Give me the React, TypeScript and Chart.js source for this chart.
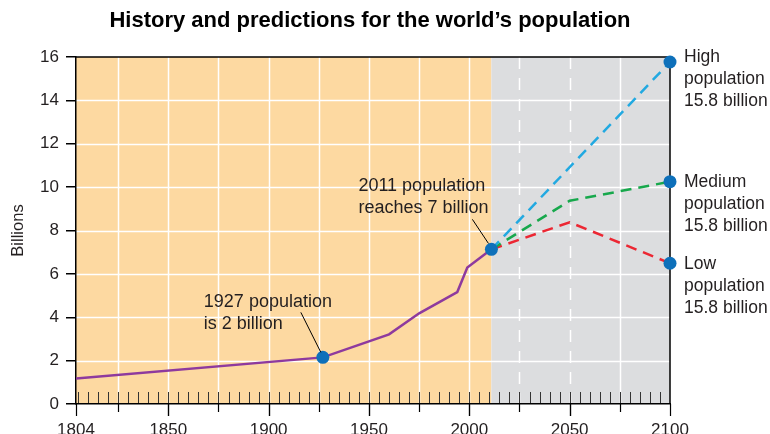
import React, { useEffect, useRef } from 'react';
import { Chart, registerables } from 'chart.js';

Chart.register(...registerables);

const historyYears = [1804, 1927, 1960, 1975, 1994, 1999, 2011];
const historyValues = [1.18, 2.15, 3.21, 4.18, 5.16, 6.29, 7.13];
const highYears = [2011, 2100];
const highValues = [7.13, 15.77];
const mediumYears = [2011, 2050, 2100];
const mediumValues = [7.13, 9.37, 10.25];
const lowYears = [2011, 2050, 2100];
const lowValues = [7.13, 8.38, 6.49];
const markerYears = [1927, 2011, 2100, 2100, 2100];
const markerValues = [2.15, 7.13, 15.77, 10.25, 6.49];
const xLabelYears = [1804, 1850, 1900, 1950, 2000, 2050, 2100];
const gridYears = [1825, 1850, 1875, 1900, 1925, 1950, 1975, 2000, 2025, 2050, 2075];
const dashedGridYears = [2025, 2050];
const yTickValues = [0, 2, 4, 6, 8, 10, 12, 14, 16];
const xMin = 1804;
const xMax = 2100;
const projectionStart = 2011;
const titleText = 'History and predictions for the world\u2019s population';
const yTitleText = 'Billions';
const note1927 = ['1927 population', 'is 2 billion'];
const note2011 = ['2011 population', 'reaches 7 billion'];
const highLabel = ['High', 'population', '15.8 billion'];
const mediumLabel = ['Medium', 'population', '15.8 billion'];
const lowLabel = ['Low', 'population', '15.8 billion'];

const FONT = '"Liberation Sans", Arial, Helvetica, sans-serif';
const TEXT = '#231F20';

const toPts = (xs: number[], ys: number[]) => xs.map((x, i) => ({ x, y: ys[i] }));

const decorPlugin = {
  id: 'decor',
  beforeDraw(chart: any) {
    const { ctx, chartArea: a, scales } = chart;
    const xs = scales.x;
    const ys = scales.y;
    const xStart = xs.getPixelForValue(xMin);
    const xSplit = xs.getPixelForValue(projectionStart);
    const xEnd = xs.getPixelForValue(xMax);
    ctx.save();
    ctx.fillStyle = '#FDD9A1';
    ctx.fillRect(xStart, a.top, xSplit - xStart, a.bottom - a.top);
    ctx.fillStyle = '#DCDDDF';
    ctx.fillRect(xSplit, a.top, xEnd - xSplit, a.bottom - a.top);

    ctx.strokeStyle = '#FFFFFF';
    ctx.lineWidth = 1.5;
    yTickValues.forEach((v) => {
      if (v <= 0 || v >= 16) return;
      const y = Math.round(ys.getPixelForValue(v)) + 0.5;
      ctx.beginPath();
      ctx.moveTo(a.left, y);
      ctx.lineTo(a.right, y);
      ctx.stroke();
    });
    gridYears.forEach((yr) => {
      const x = Math.round(xs.getPixelForValue(yr)) + 0.5;
      ctx.setLineDash(dashedGridYears.includes(yr) ? [12, 9] : []);
      ctx.beginPath();
      ctx.moveTo(x, a.top);
      ctx.lineTo(x, a.bottom);
      ctx.stroke();
    });
    ctx.setLineDash([]);

    ctx.strokeStyle = '#333333';
    ctx.lineWidth = 1;
    for (let yr = 1805; yr < xMax; yr += 5) {
      const x = Math.round(xs.getPixelForValue(yr)) + 0.5;
      ctx.beginPath();
      ctx.moveTo(x, a.bottom - 12);
      ctx.lineTo(x, a.bottom);
      ctx.stroke();
    }
    ctx.strokeStyle = '#000000';
    ctx.lineWidth = 1.2;
    const outside = [...gridYears, ...xLabelYears];
    outside.forEach((yr) => {
      const x = Math.round(xs.getPixelForValue(yr)) + 0.5;
      const len = xLabelYears.includes(yr) ? 12 : 8;
      ctx.beginPath();
      ctx.moveTo(x, a.bottom);
      ctx.lineTo(x, a.bottom + len);
      ctx.stroke();
    });
    ctx.lineWidth = 1.5;
    ctx.beginPath();
    ctx.moveTo(a.left, a.top);
    ctx.lineTo(a.right, a.top);
    ctx.lineTo(a.right, a.bottom);
    ctx.stroke();
    ctx.restore();
  },
  afterDraw(chart: any) {
    const { ctx, chartArea: a, scales } = chart;
    const xs = scales.x;
    const ys = scales.y;
    ctx.save();
    ctx.fillStyle = '#000';
    ctx.font = `bold 22px ${FONT}`;
    ctx.textAlign = 'center';
    ctx.textBaseline = 'middle';
    ctx.fillText(titleText, (a.left + a.right) / 2 - 3, 21);
    ctx.save();
    ctx.translate(18, (a.top + a.bottom) / 2);
    ctx.rotate(-Math.PI / 2);
    ctx.font = `16.5px ${FONT}`;
    ctx.fillStyle = TEXT;
    ctx.fillText(yTitleText, 0, 0);
    ctx.restore();

    ctx.fillStyle = TEXT;
    ctx.textAlign = 'left';
    ctx.textBaseline = 'middle';
    const lh = 22;
    const drawLines = (lines: string[], x: number, y: number) => {
      lines.forEach((t, i) => ctx.fillText(t, x, y + i * lh));
    };
    ctx.font = `18px ${FONT}`;
    const p1x = xs.getPixelForValue(markerYears[0]);
    const p1y = ys.getPixelForValue(markerValues[0]);
    drawLines(note1927, p1x - 119, p1y - 55);
    const p2x = xs.getPixelForValue(markerYears[1]);
    const p2y = ys.getPixelForValue(markerValues[1]);
    drawLines(note2011, p2x - 133, p2y - 63);
    ctx.strokeStyle = '#000';
    ctx.lineWidth = 1;
    ctx.beginPath();
    ctx.moveTo(p1x - 22, p1y - 45);
    ctx.lineTo(p1x - 2, p1y - 5);
    ctx.moveTo(p2x - 19, p2y - 30);
    ctx.lineTo(p2x - 3, p2y - 6);
    ctx.stroke();
    ctx.font = `17.5px ${FONT}`;
    const rx = xs.getPixelForValue(xMax) + 14;
    drawLines(highLabel, rx, ys.getPixelForValue(markerValues[2]) - 5);
    drawLines(mediumLabel, rx, ys.getPixelForValue(markerValues[3]));
    drawLines(lowLabel, rx, ys.getPixelForValue(markerValues[4]) + 1);
    ctx.restore();
  },
};

export default function App() {
  const ref = useRef<HTMLCanvasElement | null>(null);
  useEffect(() => {
    if (!ref.current) return;
    const lineBase = {
      type: 'line' as const,
      pointRadius: 0,
      borderWidth: 2.5,
      tension: 0,
      fill: false,
    };
    const chart = new Chart(ref.current, {
      type: 'line',
      data: {
        datasets: [
          {
            type: 'line',
            data: toPts(markerYears, markerValues),
            showLine: false,
            pointRadius: 6.5,
            pointHoverRadius: 6.5,
            pointBackgroundColor: '#0E70BA',
            pointBorderWidth: 0,
            borderColor: '#0E70BA',
            clip: false,
            order: 0,
          },
          { ...lineBase, data: toPts(historyYears, historyValues), borderColor: '#8E3A9E', order: 1 },
          { ...lineBase, data: toPts(highYears, highValues), borderColor: '#22A9E1', borderDash: [11, 7], order: 2 },
          { ...lineBase, data: toPts(mediumYears, mediumValues), borderColor: '#17A84C', borderDash: [11, 7], order: 3 },
          { ...lineBase, data: toPts(lowYears, lowValues), borderColor: '#EC2733', borderDash: [11, 7], order: 4 },
        ] as any,
      },
      options: {
        animation: false,
        responsive: false,
        events: [],
        layout: { padding: { left: 0, right: 100, top: 57, bottom: 0 } },
        plugins: { legend: { display: false }, tooltip: { enabled: false }, title: { display: false } },
        scales: {
          x: {
            type: 'linear',
            min: xMin,
            max: xMax,
            afterBuildTicks: (s: any) => {
              s.ticks = xLabelYears.map((v) => ({ value: v }));
            },
            afterFit: (s: any) => {
              s.height = 30;
            },
            grid: { display: false },
            border: { display: true, color: '#000', width: 1.5 },
            ticks: {
              padding: 8,
              color: TEXT,
              font: { family: FONT, size: 17 },
              maxRotation: 0,
              autoSkip: false,
              callback: (v: any) => String(v),
            },
          },
          y: {
            type: 'linear',
            min: 0,
            max: 16,
            afterBuildTicks: (s: any) => {
              s.ticks = yTickValues.map((v) => ({ value: v }));
            },
            afterFit: (s: any) => {
              s.width = 76;
            },
            grid: { drawOnChartArea: false, tickLength: 10, color: '#000', lineWidth: 1.5 },
            border: { display: true, color: '#000', width: 1.5 },
            ticks: {
              padding: 7,
              color: TEXT,
              font: { family: FONT, size: 17 },
            },
          },
        },
      },
      plugins: [decorPlugin],
    } as any);
    return () => chart.destroy();
  }, []);
  return (
    <div style={{ position: 'fixed', left: 0, top: 0, width: 770, height: 434, background: '#fff' }}>
      <canvas ref={ref} width={770} height={434} style={{ width: 770, height: 434, display: 'block' }} />
    </div>
  );
}
